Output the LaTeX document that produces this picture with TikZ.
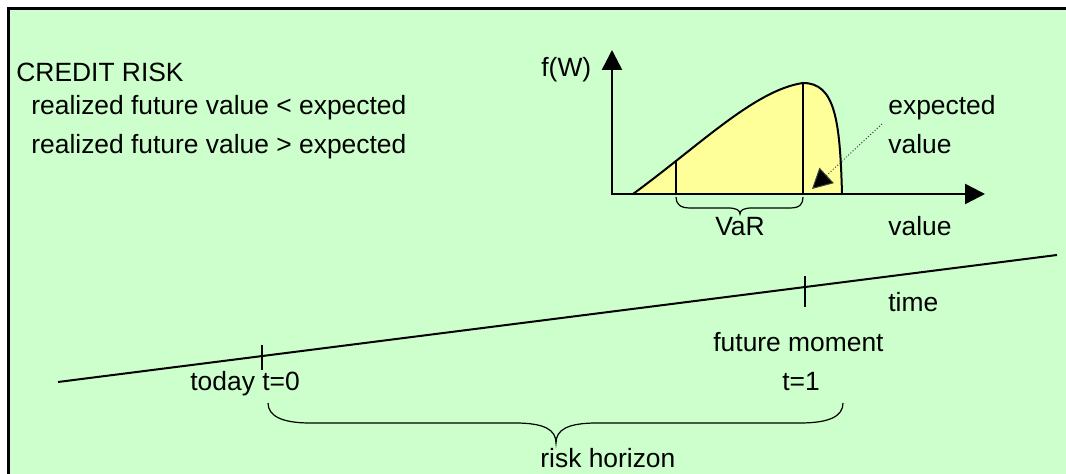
\documentclass[tikz,border=0pt]{standalone}
\usepackage{fontspec}
\setmainfont{Liberation Sans}
\usetikzlibrary{arrows.meta}
\definecolor{bggreen}{HTML}{CCFFCC}
\definecolor{pdfyellow}{HTML}{FFFF99}
\begin{document}
\begin{tikzpicture}[x=0.5pt,y=-0.5pt,
  lbl/.style={inner sep=0pt, anchor=base west, font=\fontsize{13.2}{16}\selectfont},
  clbl/.style={inner sep=0pt, anchor=base, font=\fontsize{13.2}{16}\selectfont},
  axis/.style={line width=1.25pt, -{Triangle[length=10pt,width=10pt]}},
  curveline/.style={line width=1pt},
  tickline/.style={line width=0.75pt},
  braceline/.style={line width=0.6pt},
  pointer/.style={densely dotted, line width=0.5pt, draw=black!75, -{Triangle[length=10pt,width=10.5pt,fill=black]}}]
\useasboundingbox (0,0) rectangle (1066,474);
\fill[white] (0,0) rectangle (1066,474);
\fill[bggreen] (8.5,8.5) rectangle (1066,474);
\draw[line width=1.5pt, line cap=rect] (8.5,474) -- (8.5,8.5) -- (1066,8.5);
% density
\fill[pdfyellow] (633,194) .. controls (700,145) and (755,90) .. (803,83)
  .. controls (835,83) and (840,120) .. (842,194) -- cycle;
\draw[curveline] (633,194) .. controls (700,145) and (755,90) .. (803,83)
  .. controls (835,83) and (840,120) .. (842,194);
\draw[curveline] (676,194) -- (676,160);
\draw[curveline] (803,194) -- (803,83);
% axes
\draw[axis] (612,195) -- (612,50);
\draw[axis] (611.4,194) -- (985,194);
% VaR brace
\draw[braceline] (676,197) .. controls (676,204) and (680,208) .. (690,208) -- (728,208)
  .. controls (736,208) and (740,210) .. (740,214)
  .. controls (740,210) and (744,208) .. (752,208) -- (790,208)
  .. controls (800,208) and (803,204) .. (803,197);
% expected value pointer
\coordinate (evstart) at (882,124);
\coordinate (evtip) at (812,189);
\draw[pointer] (evstart) -- (evtip);
% time line
\coordinate (tl0) at (58,382);
\coordinate (tl1) at (1057,255);
\draw[line width=1pt] (tl0) -- (tl1);
\draw[tickline] (262,345) -- (262,370);
\draw[tickline] (805,276) -- (805,307);
% risk horizon brace
\draw[braceline] (268,403) .. controls (268,416) and (282,423) .. (310,423) -- (515,423)
  .. controls (545,423) and (556,430) .. (556,443)
  .. controls (556,430) and (567,423) .. (597,423) -- (800,423)
  .. controls (830,423) and (843,416) .. (843,403);
% labels
\node[lbl] (credit) at (16,82) {CREDIT RISK};
\node[lbl] (less) at (31,115) {realized future value < expected};
\node[lbl] (more) at (31,154) {realized future value > expected};
\node[lbl] (fw) at (541,77) {f(W)};
\node[lbl] (expected) at (888,115) {expected};
\node[lbl] (evalue) at (888,154) {value};
\node[clbl] (var) at (740,236) {VaR};
\node[lbl] (value) at (888,236) {value};
\node[lbl] (time) at (888,312) {time};
\node[lbl] (future) at (713,352) {future moment};
\node[lbl] (today) at (190,391) {today t=0};
\node[lbl] (t1) at (782,391) {t=1};
\node[lbl] (risk) at (540,468) {risk horizon};
\end{tikzpicture}
\end{document}
